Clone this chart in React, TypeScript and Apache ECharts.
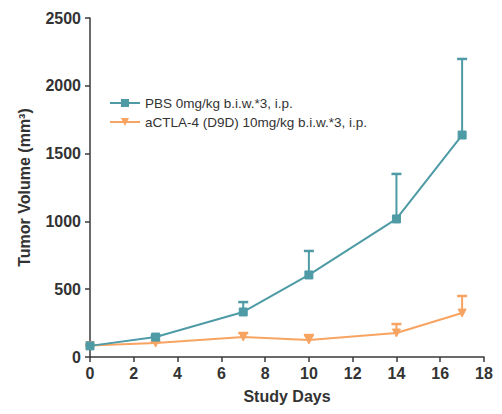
import React, { useEffect, useRef } from "react";
import * as echarts from "echarts";

const days = [0, 3, 7, 10, 14, 17];
const pbsMean = [82, 147, 332, 605, 1018, 1637];
const pbsUpper = [88, 158, 405, 782, 1350, 2198];
const ctlaMean = [85, 103, 148, 125, 177, 324];
const ctlaUpper = [88, 110, 177, 162, 243, 450];
const pbsName = "PBS 0mg/kg b.i.w.*3, i.p.";
const ctlaName = "aCTLA-4 (D9D) 10mg/kg b.i.w.*3, i.p.";
const teal = "#4e9ba6";
const orange = "#f7a462";

function errSeries(mean: number[], upper: number[], color: string) {
  return {
    type: "custom",
    z: 1,
    data: days.map((d, i) => [d, mean[i], upper[i]]),
    renderItem: (params: any, api: any) => {
      const p0 = api.coord([api.value(0), api.value(1)]);
      const p1 = api.coord([api.value(0), api.value(2)]);
      const w = 5;
      return {
        type: "group",
        children: [
          { type: "line", shape: { x1: p0[0], y1: p0[1], x2: p1[0], y2: p1[1] }, style: { stroke: color, lineWidth: 2 } },
          { type: "line", shape: { x1: p1[0] - w, y1: p1[1], x2: p1[0] + w, y2: p1[1] }, style: { stroke: color, lineWidth: 2.5 } },
        ],
      };
    },
  };
}

export default function App() {
  const ref = useRef<HTMLDivElement>(null);
  useEffect(() => {
    const chart = echarts.init(ref.current!, null, { renderer: "svg" });
    chart.setOption({
      animation: false,
      textStyle: { fontFamily: "Liberation Sans, Arial, sans-serif" },
      grid: { left: 82, right: 10, top: 10, bottom: 49, outerBoundsMode: "none", containLabel: false },
      legend: {
        left: 96,
        top: 83,
        orient: "vertical",
        itemGap: 5,
        itemWidth: 30,
        itemHeight: 10,
        textStyle: { fontSize: 13.5, color: "#333" },
        data: [pbsName, ctlaName],
      },
      xAxis: {
        type: "value",
        min: 0,
        max: 18,
        interval: 2,
        splitLine: { show: false },
        axisLine: { lineStyle: { color: "#3a3a3a", width: 1.5 } },
        axisTick: { show: true, length: 5, lineStyle: { color: "#3a3a3a", width: 1.5 } },
        axisLabel: { fontSize: 16, fontWeight: "bold", color: "#333", margin: 8 },
        name: "Study Days",
        nameLocation: "middle",
        nameGap: 31,
        nameTextStyle: { fontSize: 16, fontWeight: "bold", color: "#333" },
      },
      yAxis: {
        type: "value",
        min: 0,
        max: 2500,
        interval: 500,
        splitLine: { show: false },
        axisLine: { show: true, lineStyle: { color: "#3a3a3a", width: 1.5 } },
        axisTick: { show: true, length: 5, lineStyle: { color: "#3a3a3a", width: 1.5 } },
        axisLabel: { fontSize: 16, fontWeight: "bold", color: "#333", margin: 9, formatter: (v: number) => String(v) },
        name: "Tumor Volume (mm³)",
        nameLocation: "middle",
        nameGap: 58,
        nameTextStyle: { fontSize: 16, fontWeight: "bold", color: "#333" },
      },
      series: [
        errSeries(pbsMean, pbsUpper, teal),
        errSeries(ctlaMean, ctlaUpper, orange),
        {
          name: pbsName,
          type: "line",
          z: 3,
          data: days.map((d, i) => [d, pbsMean[i]]),
          symbol: "rect",
          symbolSize: 8,
          lineStyle: { color: teal, width: 2 },
          itemStyle: { color: teal, borderColor: teal },
        },
        {
          name: ctlaName,
          type: "line",
          z: 2,
          data: days.map((d, i) => [d, ctlaMean[i]]),
          symbol: "triangle",
          symbolRotate: 180,
          symbolSize: 8,
          lineStyle: { color: orange, width: 2 },
          itemStyle: { color: orange, borderColor: orange },
        },
      ],
    });
    return () => chart.dispose();
  }, []);
  return <div ref={ref} style={{ width: 486, height: 398 }} />;
}
